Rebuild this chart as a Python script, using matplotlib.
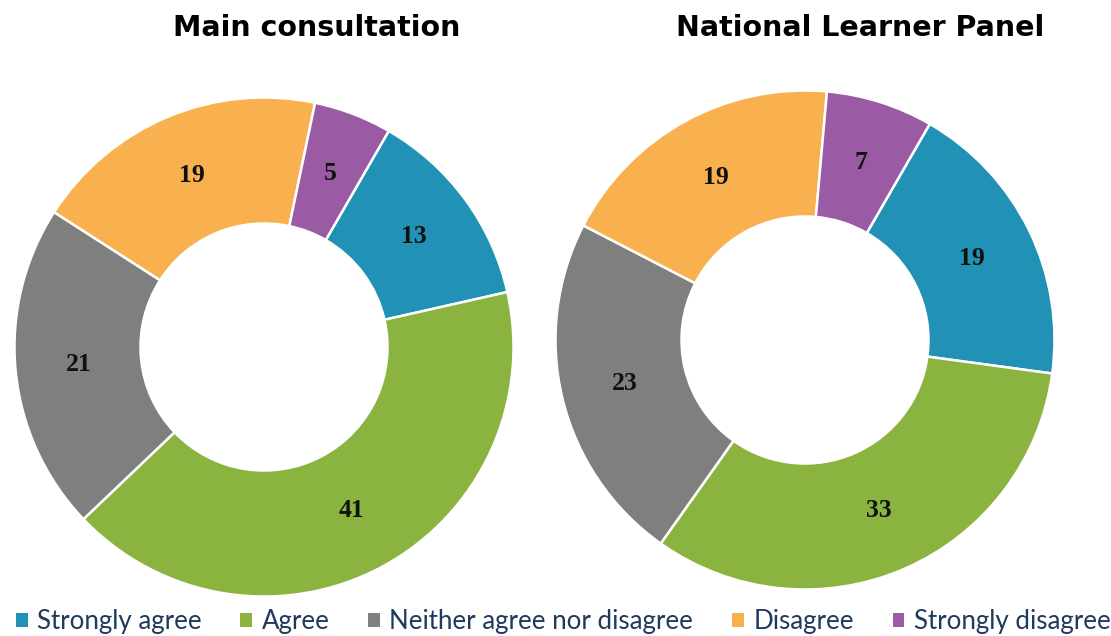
import matplotlib
matplotlib.use("Agg")
import matplotlib.pyplot as plt
from matplotlib.patches import Patch
import numpy as np

categories = ["Strongly agree", "Agree", "Neither agree nor disagree", "Disagree", "Strongly disagree"]
main_values = [13, 41, 21, 19, 5]
panel_values = [19, 33, 23, 19, 7]
titles = ["Main consultation", "National Learner Panel"]
colors = ["#2192B6", "#8AB43F", "#7F7F7F", "#F8B14E", "#9A5AA4"]

W, H = 1111, 636
fig = plt.figure(figsize=(W / 100, H / 100), dpi=100)

def donut(cx, cy, r, values):
    ax = fig.add_axes([(cx - r) / W, (H - cy - r) / H, 2 * r / W, 2 * r / H])
    wedges, _ = ax.pie(values, colors=colors, startangle=60, counterclock=False,
                       radius=1, wedgeprops=dict(width=0.505, edgecolor="white", linewidth=1.8))
    for w, v in zip(wedges, values):
        ang = np.deg2rad((w.theta1 + w.theta2) / 2)
        ax.text(0.745 * np.cos(ang), 0.745 * np.sin(ang), str(v), ha="center", va="center",
                fontsize=18.5, fontweight="bold", family="Liberation Serif", color="#111111")
    ax.set_xlim(-1.01, 1.01)
    ax.set_ylim(-1.01, 1.01)
    ax.axis("off")
    return wedges

donut(264, 347, 252, main_values)
donut(805, 340, 252, panel_values)

fig.text(317 / W, 1 - 28 / H, titles[0], ha="center", va="center",
         fontsize=20.5, fontweight="bold", family="DejaVu Sans")
fig.text(860 / W, 1 - 28 / H, titles[1], ha="center", va="center",
         fontsize=20.5, fontweight="bold", family="DejaVu Sans")

handles = [Patch(facecolor=c, edgecolor="none") for c in colors]
fig.legend(handles, categories, loc="center left", bbox_to_anchor=(3 / W, 1 - 622 / H),
           ncol=5, frameon=False, borderpad=0, handlelength=0.45, handleheight=0.45,
           handletextpad=0.37, columnspacing=1.5, prop={"family": "Lato", "size": 18.6},
           labelcolor="#1F3A5A")

fig.savefig("out.png", dpi=100)
